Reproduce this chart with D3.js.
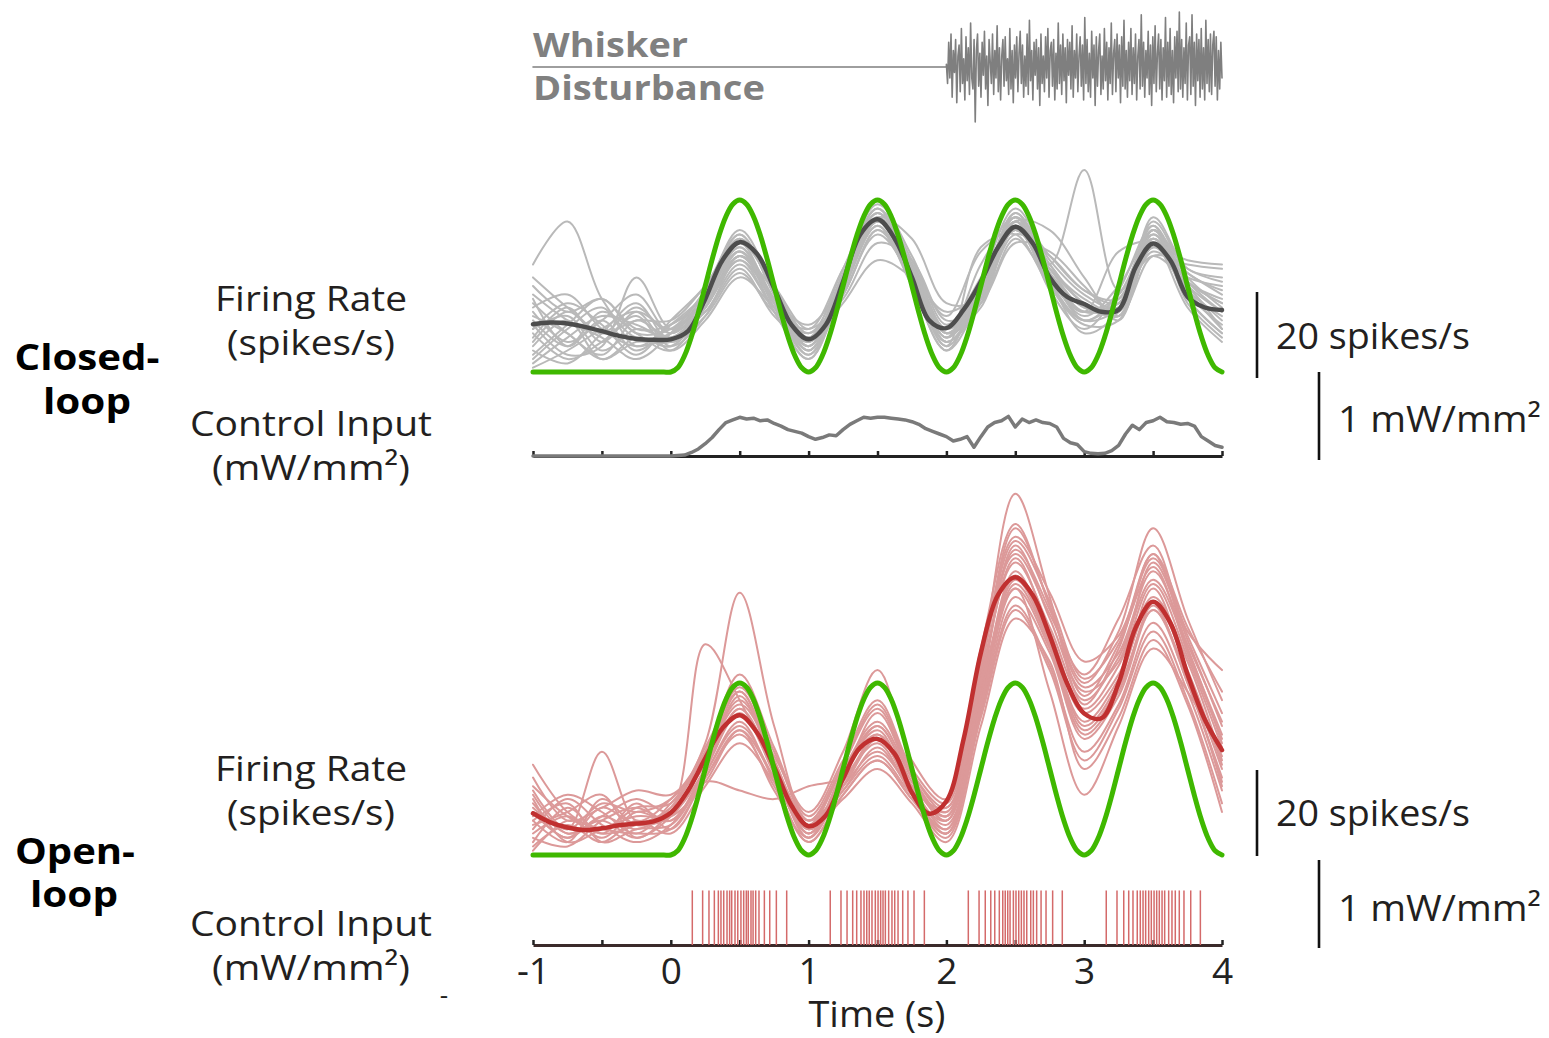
<!DOCTYPE html>
<html><head><meta charset="utf-8">
<script src="https://cdn.jsdelivr.net/npm/d3@7"></script>
<style>html,body{margin:0;padding:0;background:#fff;}svg{display:block;}</style>
</head><body>
<svg id="chart" width="1549" height="1038"></svg>
<script>
// ---------------- DATA ----------------
const xTickLabels = ["-1","0","1","2","3","4"];
const xTickValues = [-1,0,1,2,3,4];
const xMinorTicks = [-1,-0.5,0,0.5,1,1.5,2,2.5,3,3.5,4];

// target firing-rate (spikes/s), sampled every 0.05 s from -1 to 4
const greenTarget = [
 0,0,0,0,0,0,0,0,0,0,0,0,0,0,0,0,0,0,0,0,
 0,0.98,3.82,8.24,13.82,20,26.18,31.76,36.18,39.02,40,39.02,36.18,31.76,26.18,20,13.82,8.24,3.82,0.98,
 0,0.98,3.82,8.24,13.82,20,26.18,31.76,36.18,39.02,40,39.02,36.18,31.76,26.18,20,13.82,8.24,3.82,0.98,
 0,0.98,3.82,8.24,13.82,20,26.18,31.76,36.18,39.02,40,39.02,36.18,31.76,26.18,20,13.82,8.24,3.82,0.98,
 0,0.98,3.82,8.24,13.82,20,26.18,31.76,36.18,39.02,40,39.02,36.18,31.76,26.18,20,13.82,8.24,3.82,0.98,
 0];

// closed-loop mean firing rate, every 0.125 s from -1 to 4
const closedMean = [11.1,11.5,11.3,10.5,9.5,8.4,7.7,7.5,7.6,9.5,17,26,30.2,27.5,19.5,11,7.6,11,21,32,35.5,31,22,12,10.2,14.5,21,29,33.8,30,22,17.5,15.8,14,14.5,24.5,29.9,26,17.5,15,14.4];

// closed-loop single trials, every 0.25 s from -1 to 4
const closedTrials = [
 [25,35,17,8,9,17,29,17,5,19,35,22,7,17,33,23,15,14,29,20,14],
 [12,6,14,9,5,15,27,16,4,21,37,25,9,20,36,21,12,18,31,17,9],
 [8,15,7,14,10,18,31,19,7,22,38,22,6,19,37,25,16,13,33,21,17],
 [16,9,4,12,8,14,25,15,9,18,33,23,10,17,32,27,19,16,28,22,20],
 [3,10,15,6,11,16,28,14,3,20,36,20,5,21,35,19,10,19,34,16,8],
 [18,12,8,3,9,19,33,20,8,24,39,27,11,22,38,26,18,15,36,24,22],
 [5,2,9,16,7,13,23,14,10,17,30,26,12,16,30,28,20,13,27,25,24],
 [10,16,11,4,12,20,32,18,6,23,37,24,8,25,36,22,13,20,32,19,13],
 [14,7,12,18,9,17,30,16,5,19,34,21,7,16,34,20,11,12,30,15,7],
 [6,12,3,8,6,15,26,17,11,21,35,25,13,28,33,24,17,14,29,23,18],
 [20,14,17,10,11,18,29,15,4,18,32,22,9,15,35,33,22,12,31,21,16],
 [2,8,13,11,8,16,27,19,9,22,36,31,16,17,31,21,14,28,30,18,11],
 [11,4,6,22,10,14,24,13,7,16,26,22,14,19,33,25,47,19,27,20,10],
 [15,18,10,6,9,17,28,17,6,20,35,23,8,18,35,24,15,16,33,22,15],
 [9,3,7,13,5,12,22,15,8,18,33,21,6,29,32,20,12,17,29,26,25],
 [4,11,17,9,10,19,32,18,5,21,36,24,7,18,37,23,12,15,34,20,12],
 [13,9,3,7,7,15,26,14,3,19,34,20,5,17,33,21,9,14,31,19,10],
 [7,14,9,15,9,16,30,20,10,24,38,26,10,20,36,27,19,17,35,23,19],
 [17,6,12,5,11,18,28,16,6,20,36,23,8,19,35,24,16,13,32,21,14],
 [1,5,10,14,6,13,27,16,7,22,37,25,10,21,34,22,14,18,33,17,9],
 [10,13,5,10,8,15,27,17,8,20,35,24,9,18,34,23,14,16,31,21,16],
 [22,15,9,12,12,20,31,19,7,21,36,25,9,20,36,25,16,15,33,24,21]
];

// closed-loop control input (mW/mm^2), every 0.05 s from 0 to 4 (0 before)
const closedControl = [0,0.005,0.01,0.04,0.08,0.14,0.21,0.30,0.38,0.41,0.44,0.42,0.43,0.40,0.41,0.37,0.34,0.30,0.28,0.26,
 0.22,0.19,0.21,0.24,0.23,0.30,0.36,0.40,0.44,0.43,0.44,0.44,0.43,0.42,0.41,0.39,0.36,0.31,0.28,0.25,
 0.22,0.17,0.19,0.22,0.10,0.22,0.33,0.38,0.40,0.45,0.33,0.42,0.38,0.41,0.38,0.37,0.33,0.20,0.15,0.13,
 0.05,0.03,0.025,0.03,0.06,0.12,0.25,0.35,0.30,0.38,0.40,0.44,0.39,0.38,0.36,0.37,0.34,0.22,0.17,0.12,
 0.10];

// open-loop mean firing rate, every 0.125 s from -1 to 4
const openMean = [9.7,7.6,6.4,5.8,6.2,6.9,7.3,7.8,9.8,15,22.5,29.5,32.5,28.5,20.5,11.5,6.7,9.2,17.8,25,27,23.5,14.5,9.6,12.5,27,47,60.5,64.6,60.5,51,40,32.9,31.8,40,53,58.9,54,42,31.5,24.4];

// open-loop single trials, every 0.25 s from -1 to 4
const openTrials = [
 [12,5,8,4,9,22,40,22,5,18,30,17,8,40,72,55,38,45,68,50,30],
 [21,10,6,11,12,26,61,30,8,16,27,16,9,44,84,60,35,48,70,48,28],
 [8,3,13,7,10,49,36,20,6,15,25,15,11,38,66,50,33,42,60,45,22],
 [5,9,4,10,8,20,33,19,4,19,28,14,5,35,62,48,28,38,58,40,18],
 [15,6,24,8,13,24,42,25,9,22,36,20,12,48,77,58,40,52,76,55,36],
 [3,11,5,12,6,18,28,16,3,14,22,13,4,33,58,44,24,35,54,38,15],
 [10,4,9,6,11,25,38,21,7,20,31,18,9,42,68,53,36,46,64,48,26],
 [6,13,7,3,7,19,30,18,5,17,26,14,6,36,64,50,30,40,62,42,20],
 [18,8,11,15,14,23,35,23,10,24,43,22,13,46,70,56,42,55,72,52,43],
 [2,7,3,8,5,16,26,17,6,13,20,12,3,30,55,45,20,32,50,35,10],
 [9,14,10,5,12,22,37,20,4,18,33,18,8,39,71,57,39,47,66,49,31],
 [13,3,6,9,9,17,29,18,7,16,24,15,7,34,60,47,27,37,57,41,16],
 [7,10,14,4,10,21,34,19,5,19,29,16,10,41,69,52,34,44,63,46,25],
 [4,2,8,11,8,17,15,13,16,18,28,16,6,37,65,49,31,41,59,43,21],
 [16,9,5,7,11,24,39,24,8,21,34,19,11,45,74,61,45,51,69,51,33],
 [11,6,12,10,13,23,36,22,6,15,23,14,8,40,62,38,14,30,48,38,23],
 [8,12,3,6,7,19,31,17,3,14,22,13,5,32,57,43,22,34,52,36,12],
 [14,5,9,13,10,20,34,21,8,20,30,17,9,43,73,59,41,50,70,53,38],
 [1,8,6,5,6,18,29,15,4,16,27,15,5,35,63,49,29,39,57,40,17],
 [10,4,11,7,9,22,38,22,7,21,35,19,10,44,76,58,37,49,67,47,27]
];

// open-loop light pulses (s) and their height (mW/mm^2)
const pulseTimes = [
 0.156,0.231,0.277,0.316,0.345,0.364,0.384,0.408,0.427,0.442,0.466,0.486,0.509,0.529,0.548,0.562,0.582,0.597,0.616,0.640,0.679,0.718,0.766,0.841,
 1.157,1.235,1.279,1.320,1.349,1.380,1.402,1.422,1.440,1.460,1.484,1.504,1.523,1.540,1.557,1.581,1.605,1.625,1.649,1.683,1.721,1.765,1.840,
 2.159,2.237,2.282,2.322,2.351,2.384,2.409,2.427,2.445,2.462,2.486,2.505,2.525,2.544,2.563,2.583,2.612,2.631,2.655,2.687,2.723,2.771,2.841,
 3.160,3.238,3.287,3.323,3.354,3.385,3.407,3.427,3.446,3.468,3.487,3.507,3.526,3.545,3.565,3.584,3.613,3.637,3.661,3.690,3.724,3.773,3.843];
const pulseHeight = 0.62;

// whisker disturbance (a.u.), from t = 2 to 4
const disturbance = [
 0.05,-0.3,0.45,-0.2,0.6,-0.55,0.3,-0.1,0.5,-0.65,0.2,0.4,-0.45,0.7,-0.3,0.15,-0.6,0.55,-0.25,0.35,
 -0.5,0.8,-0.2,-0.4,0.5,-1.0,0.3,0.6,-0.35,0.25,-0.55,0.45,-0.15,0.65,-0.4,0.2,-0.7,0.5,0.1,-0.3,
 0.6,-0.5,0.3,-0.2,0.75,-0.45,0.35,-0.6,0.2,0.5,-0.35,0.55,-0.25,0.15,-0.5,0.7,-0.4,0.3,-0.65,0.4,
 -0.2,0.55,-0.45,0.25,0.65,-0.3,0.4,-0.55,0.2,-0.35,0.6,-0.5,0.85,-0.25,0.3,-0.6,0.45,-0.15,0.5,-0.4,
 0.35,-0.7,0.6,-0.3,0.2,-0.45,0.55,-0.2,0.7,-0.55,0.3,0.45,-0.35,0.5,-0.6,0.25,-0.4,0.8,-0.3,0.4,
 -0.5,0.6,-0.25,0.35,-0.65,0.5,-0.15,0.45,-0.4,0.75,-0.55,0.3,-0.2,0.6,-0.45,0.2,0.55,-0.35,0.4,-0.6,
 0.9,-0.3,0.5,-0.45,0.25,-0.55,0.65,-0.2,0.4,-0.7,0.55,-0.35,0.3,0.6,-0.5,0.2,-0.4,0.7,-0.25,0.45,
 -0.6,0.35,-0.3,0.8,-0.5,0.25,0.5,-0.45,0.6,-0.2,0.4,-0.65,0.55,-0.35,0.85,-0.4,0.3,-0.55,0.45,-0.25,
 0.7,-0.5,0.35,-0.3,0.6,-0.6,0.2,0.5,-0.4,0.95,-0.35,0.45,-0.55,0.3,-0.2,0.65,-0.5,0.4,-0.7,0.55,
 -0.3,0.75,-0.45,0.25,0.6,-0.4,0.5,-0.6,0.35,-0.25,0.9,-0.55,0.45,-0.35,0.7,-0.5,0.3,-0.65,0.55,-0.2,
 0.65,-0.45,1.0,-0.4,0.5,-0.55,0.35,-0.3,0.8,-0.6,0.4,0.55,-0.5,0.95,-0.35,0.45,-0.7,0.6,-0.25,0.5,
 -0.55,0.7,-0.4,0.35,-0.6,0.85,-0.3,0.5,-0.45,0.6,-0.5,0.4,0.65,-0.35,0.55,-0.6,0.3,-0.4,0.45,-0.2];

// ---------------- LAYOUT ----------------
const svg = d3.select("#chart");
const FONT = "'Open Sans', 'Noto Sans', sans-serif";
const x = d3.scaleLinear().domain([-1,4]).range([533,1222]);
const yDist = d3.scaleLinear().domain([-1,1]).range([122,12]);
const yCFR = d3.scaleLinear().domain([0,40]).range([372,200]);
const yCCI = d3.scaleLinear().domain([0,1]).range([456,368]);
const yOFR = d3.scaleLinear().domain([0,40]).range([855,683]);
const yOCI = d3.scaleLinear().domain([0,1]).range([945,857]);

const tStep = (start, step, n) => d3.range(n).map(i => start + i*step);
const tGreen = tStep(-1, 0.05, greenTarget.length);
const tMean = tStep(-1, 0.125, closedMean.length);
const tTrial = tStep(-1, 0.25, 21);
const tCtrl = [-1].concat(tStep(0, 0.05, closedControl.length));
const vCtrl = [0].concat(closedControl);
const tDist = [-1, 2].concat(tStep(2, 2/(disturbance.length-1), disturbance.length));
const vDist = [0, 0].concat(disturbance);

function drawLine(g, ts, vs, yS, opts) {
  const line = d3.line().x((d,i)=>x(ts[i])).y(d=>yS(d)).curve(opts.curve || d3.curveLinear);
  g.append("path").datum(vs).attr("d", line)
    .attr("fill","none").attr("stroke",opts.color).attr("stroke-width",opts.width)
    .attr("stroke-linejoin","round").attr("stroke-linecap","round")
    .attr("opacity", opts.opacity == null ? 1 : opts.opacity);
}

// whisker disturbance
const gD = svg.append("g");
drawLine(gD, tDist, vDist, yDist, {color:"#7f7f7f", width:1.6});

// closed-loop firing rate
const gC = svg.append("g");
closedTrials.forEach(tr => drawLine(gC, tTrial, tr, yCFR, {color:"#b9b9b9", width:2, curve:d3.curveCatmullRom}));
drawLine(gC, tMean, closedMean, yCFR, {color:"#4d4d4d", width:4.5, curve:d3.curveCatmullRom});
drawLine(gC, tGreen, greenTarget, yCFR, {color:"#3fb800", width:5, curve:d3.curveCatmullRom});

// closed-loop control input
const axC = svg.append("g").attr("transform",`translate(0,${yCCI(0)})`)
  .call(d3.axisBottom(x).tickValues(xMinorTicks).tickSizeInner(-5).tickSizeOuter(0).tickFormat(""));
axC.select(".domain").attr("stroke","#222").attr("stroke-width",3);
axC.selectAll(".tick line").attr("stroke","#222").attr("stroke-width",2.5);
drawLine(svg.append("g"), tCtrl, vCtrl, yCCI, {color:"#7a7a7a", width:3.5});

// open-loop firing rate
const gO = svg.append("g");
openTrials.forEach(tr => drawLine(gO, tTrial, tr, yOFR, {color:"#dc9999", width:2, curve:d3.curveCatmullRom}));
drawLine(gO, tMean, openMean, yOFR, {color:"#c03030", width:4.5, curve:d3.curveCatmullRom});
drawLine(gO, tGreen, greenTarget, yOFR, {color:"#3fb800", width:5, curve:d3.curveCatmullRom});

// open-loop control input
const axO = svg.append("g").attr("transform",`translate(0,${yOCI(0)})`)
  .call(d3.axisBottom(x).tickValues(xMinorTicks).tickSizeInner(-5).tickSizeOuter(0)
     .tickPadding(12).tickFormat(d => xTickValues.includes(d) ? xTickLabels[xTickValues.indexOf(d)] : ""));
axO.select(".domain").attr("stroke","#3b2a2a").attr("stroke-width",3);
axO.selectAll(".tick line").attr("stroke","#222").attr("stroke-width",2.5);
axO.selectAll(".tick text").attr("font-family",FONT).attr("font-size",37).attr("fill","#222").attr("dy","0.72em");
svg.append("g").selectAll("line").data(pulseTimes).join("line")
  .attr("x1",d=>x(d)).attr("x2",d=>x(d)).attr("y1",yOCI(0)).attr("y2",yOCI(pulseHeight))
  .attr("stroke","#d46a6a").attr("stroke-width",1.5);

// scale bars
function vbar(xp, y0, y1) {
  svg.append("line").attr("x1",xp).attr("x2",xp).attr("y1",y0).attr("y2",y1)
    .attr("stroke","#111").attr("stroke-width",2.6);
}
vbar(1257, yCFR(0)+6, yCFR(20)+6);
vbar(1319, yCCI(0)+4, yCCI(1)+4);
vbar(1257, yOFR(0)+1, yOFR(20)+1);
vbar(1319, yOCI(0)+3, yOCI(1)+3);

// text helper
function label(str, xp, yp, size, opts={}) {
  const t = svg.append("text").attr("x",xp).attr("y",yp).text(str)
    .attr("font-family",FONT).attr("font-size",size)
    .attr("font-weight",opts.weight||400).attr("fill",opts.color||"#231f20")
    .attr("text-anchor",opts.anchor||"start");
  if (opts.width) t.attr("textLength",opts.width).attr("lengthAdjust","spacingAndGlyphs");
  return t;
}
label("Whisker", 533, 57, 34, {weight:700, color:"#808080", width:155});
label("Disturbance", 533, 100, 34, {weight:700, color:"#808080", width:232});

const sideRows = [
  {fr:311, sp:355, ci:436, mw:480},
  {fr:781, sp:825, ci:936, mw:980}
];
sideRows.forEach(r => {
  label("Firing Rate", 311, r.fr, 35.5, {anchor:"middle", width:192});
  label("(spikes/s)", 311, r.sp, 35.5, {anchor:"middle", width:168});
  label("Control Input", 311, r.ci, 35.5, {anchor:"middle", width:242});
  label("(mW/mm²)", 311, r.mw, 35.5, {anchor:"middle", width:198});
});
label("Closed-", 87, 370, 35, {anchor:"middle", weight:700, color:"#000", width:145});
label("loop", 87, 414, 35, {anchor:"middle", weight:700, color:"#000", width:88});
label("Open-", 75, 864, 35, {anchor:"middle", weight:700, color:"#000", width:120});
label("loop", 74, 907, 35, {anchor:"middle", weight:700, color:"#000", width:88});

label("20 spikes/s", 1276, 349, 36, {width:194});
label("1 mW/mm²", 1338, 432, 36, {width:203});
label("20 spikes/s", 1276, 826, 36, {width:194});
label("1 mW/mm²", 1338, 921, 36, {width:203});

label("Time (s)", 877, 1027, 36, {anchor:"middle", width:137});
label("-", 444, 1004, 26, {anchor:"middle"});
</script>
</body></html>
